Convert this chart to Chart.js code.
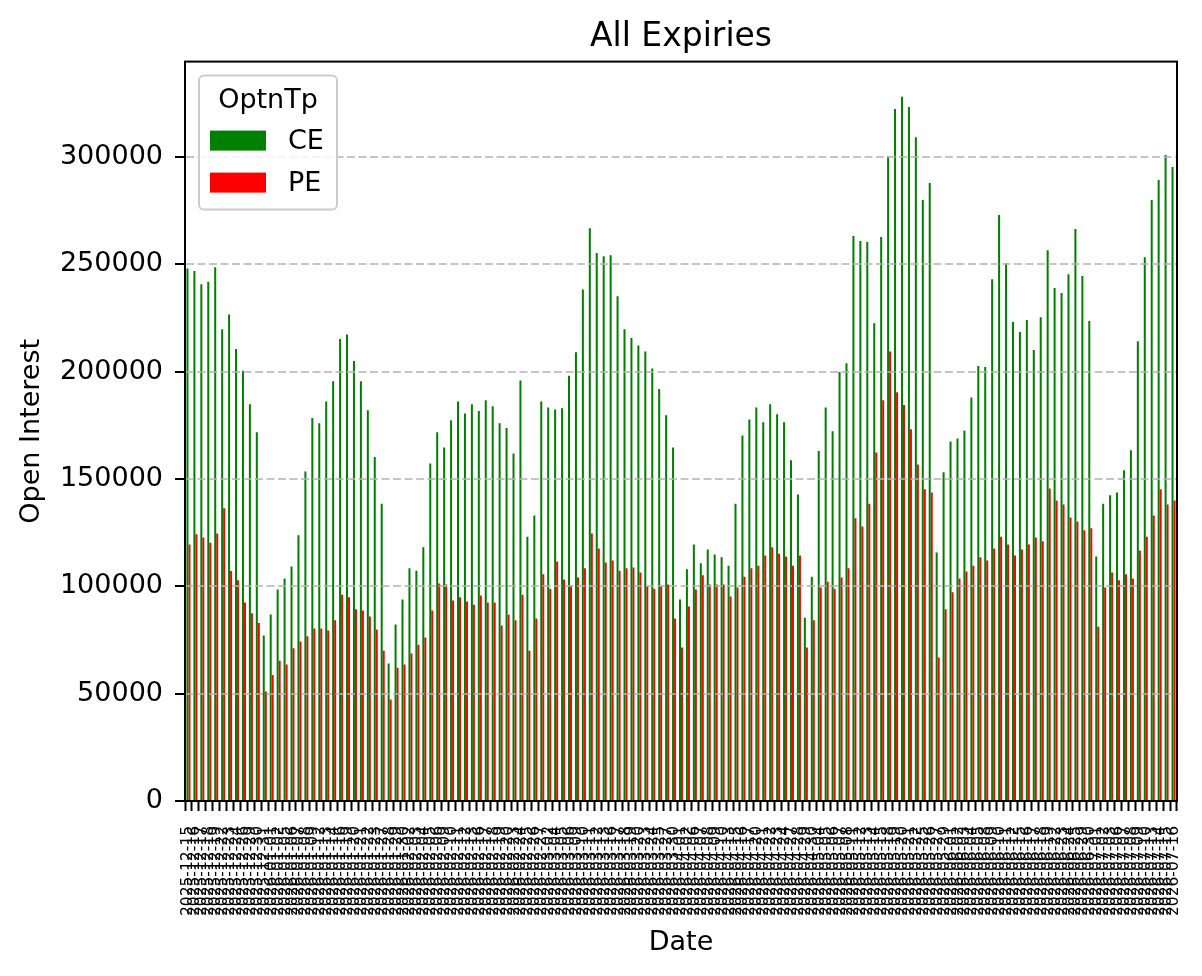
<!DOCTYPE html>
<html>
<head>
<meta charset="utf-8">
<title>All Expiries</title>
<script src="https://cdn.jsdelivr.net/npm/chart.js@4.4.1/dist/chart.umd.min.js"></script>
<style>
  html, body { margin: 0; padding: 0; background: #fff; }
  #chart { display: block; }
</style>
</head>
<body>
<canvas id="chart" width="1202" height="976"></canvas>
<script>
// ----- Data -----
var dates = [
  '2025-12-15','2025-12-16','2025-12-17','2025-12-18','2025-12-19','2025-12-22','2025-12-23','2025-12-24','2025-12-26','2025-12-29','2025-12-30','2025-12-31',
  '2026-01-01','2026-01-02','2026-01-05','2026-01-06','2026-01-07','2026-01-08','2026-01-09','2026-01-12','2026-01-13','2026-01-14',
  '2026-01-16','2026-01-19','2026-01-20','2026-01-21','2026-01-22','2026-01-23','2026-01-27','2026-01-28','2026-01-29','2026-01-30',
  '2026-02-02','2026-02-03','2026-02-04','2026-02-05','2026-02-06','2026-02-09','2026-02-10','2026-02-11','2026-02-12','2026-02-13',
  '2026-02-16','2026-02-17','2026-02-18','2026-02-19','2026-02-20','2026-02-23','2026-02-24','2026-02-25','2026-02-26','2026-02-27',
  '2026-03-02','2026-03-04','2026-03-05','2026-03-06','2026-03-09','2026-03-10','2026-03-11','2026-03-12','2026-03-13','2026-03-16',
  '2026-03-17','2026-03-18','2026-03-19','2026-03-20','2026-03-23','2026-03-24','2026-03-25','2026-03-27','2026-03-30',
  '2026-04-01','2026-04-02','2026-04-06','2026-04-07','2026-04-08','2026-04-09','2026-04-10','2026-04-13','2026-04-15','2026-04-16',
  '2026-04-17','2026-04-20','2026-04-21','2026-04-22','2026-04-23','2026-04-24','2026-04-27','2026-04-28','2026-04-29','2026-04-30',
  '2026-05-04','2026-05-05','2026-05-06','2026-05-07','2026-05-08','2026-05-11','2026-05-12','2026-05-13','2026-05-14','2026-05-15',
  '2026-05-18','2026-05-19','2026-05-20','2026-05-21','2026-05-22','2026-05-25','2026-05-26','2026-05-27','2026-05-29',
  '2026-06-01','2026-06-02','2026-06-03','2026-06-04','2026-06-05','2026-06-08','2026-06-09','2026-06-10','2026-06-11','2026-06-12',
  '2026-06-15','2026-06-16','2026-06-17','2026-06-18','2026-06-19','2026-06-22','2026-06-23','2026-06-24','2026-06-25','2026-06-29','2026-06-30',
  '2026-07-01','2026-07-02','2026-07-03','2026-07-06','2026-07-07','2026-07-08','2026-07-09','2026-07-10','2026-07-13','2026-07-14','2026-07-15','2026-07-16'
];

var ceValues = [
  248000,246900,240700,241800,248600,219700,226600,210500,200400,184800,171700,77100,
  86900,98500,103600,109200,123800,153500,178400,176000,186100,195500,
  215200,217300,204900,195500,182000,160200,138500,64000,82200,93800,
  108400,107300,118200,157200,171700,164700,177300,186100,180500,184800,
  181600,186700,183900,176000,173700,161900,195900,123100,133000,186100,
  183300,182400,182900,198100,209000,238300,266800,255200,253700,254200,
  235100,219700,215600,212200,209400,201500,191900,179700,164700,
  93800,107900,119500,110700,117100,114800,113500,109600,138500,170200,
  177700,183300,176400,184800,180100,176400,158700,142800,85400,104500,
  163000,183300,172200,199800,203900,263200,260800,260400,222500,262700,
  300200,322300,328000,323300,309200,279900,287800,115800,153100,
  167500,168900,172600,188000,202600,202100,243000,273000,250500,223100,
  218400,224000,210100,225300,256500,239000,236600,245400,266400,244500,223600,
  113900,138500,142400,143700,154000,163400,214100,253300,279900,289300,300900,295300
];

var peValues = [
  119500,124200,122700,120300,124600,136400,107100,102800,92500,87400,82900,51000,
  58700,65300,63600,71100,74300,76700,80300,80300,79400,84200,
  96100,94900,89300,88700,85900,79900,70000,47300,62100,63600,
  68700,72800,76200,88700,101300,100900,93400,94900,92900,91400,
  95700,92500,92500,81800,86900,84200,96100,70000,85000,105600,
  98900,111600,103200,100400,104100,108400,124600,117600,111100,112000,
  107300,108400,108800,106400,100000,98900,100400,100900,85000,
  71500,90600,98500,105100,100900,100900,100900,95300,99400,104500,
  108400,109600,114300,118200,115200,113900,109600,114300,71500,84200,
  99400,102100,98900,104100,108400,131700,127800,138500,162300,186700,
  209400,190400,184400,173200,156700,145200,143700,66800,89300,
  97200,103600,106900,109600,113500,112000,117600,123100,119500,114300,
  117100,119500,122700,121000,145600,140000,138100,132100,130200,126100,127000,
  81200,99400,106400,102800,105600,103600,116700,123100,133000,145200,138100,140000
];

var yTicks = [0, 50000, 100000, 150000, 200000, 250000, 300000];
var seriesNames = ['CE', 'PE'];
var legendTitle = 'OptnTp';

Chart.defaults.font.family = "'DejaVu Sans', sans-serif";
Chart.defaults.color = '#000';

// ----- Frame + legend (matplotlib style) -----
var frameAndLegend = {
  id: 'frameAndLegend',
  afterDraw: function(chart) {
    var ctx = chart.ctx, a = chart.chartArea;
    ctx.save();
    ctx.strokeStyle = '#000';
    ctx.lineWidth = 2;
    ctx.strokeRect(a.left, a.top, a.right - a.left, a.bottom - a.top);

    var x = a.left + 14, y = a.top + 14, w = 138, h = 134;
    ctx.beginPath();
    ctx.roundRect(x, y, w, h, 5);
    ctx.fillStyle = 'rgba(255,255,255,0.8)';
    ctx.fill();
    ctx.strokeStyle = '#cccccc';
    ctx.lineWidth = 2;
    ctx.stroke();

    ctx.fillStyle = '#000';
    ctx.font = "27px 'DejaVu Sans'";
    ctx.textAlign = 'center';
    ctx.textBaseline = 'middle';
    ctx.fillText(legendTitle, x + w / 2, y + 25);

    chart.data.datasets.forEach(function(ds, i) {
      var ry = y + 55 + i * 42;
      ctx.fillStyle = ds.backgroundColor;
      ctx.fillRect(x + 11, ry, 56, 20);
      ctx.fillStyle = '#000';
      ctx.textAlign = 'left';
      ctx.fillText(ds.label, x + 89, ry + 11);
    });
    ctx.restore();
  }
};

var ctx = document.getElementById('chart').getContext('2d');
new Chart(ctx, {
  type: 'bar',
  data: {
    labels: dates,
    datasets: [
      { label: seriesNames[0], data: ceValues, backgroundColor: '#008000', borderWidth: 0,
        categoryPercentage: 0.58, barPercentage: 1.0 },
      { label: seriesNames[1], data: peValues, backgroundColor: '#ff0000', borderWidth: 0,
        categoryPercentage: 0.58, barPercentage: 1.0 }
    ]
  },
  options: {
    responsive: false,
    animation: false,
    layout: { padding: { top: 0, right: 25, bottom: 0, left: 0 } },
    plugins: {
      legend: { display: false },
      tooltip: { enabled: false },
      title: {
        display: true, text: 'All Expiries', fullSize: false, color: '#000',
        font: { size: 33, weight: 'normal' }, padding: { top: 18, bottom: 4 }
      }
    },
    scales: {
      x: {
        ticks: { autoSkip: false, minRotation: 90, maxRotation: 90, font: { size: 15.5 }, padding: 15, color: '#000' },
        grid: { drawOnChartArea: false, tickLength: 10, tickColor: '#000', tickWidth: 2, z: 1 },
        border: { color: '#000', width: 2, z: 2 },
        title: { display: true, text: 'Date', font: { size: 27 }, padding: { top: 0, bottom: 17 } },
        afterFit: function(s) { s.height = 175; s.paddingLeft = 0; s.paddingRight = 0; }
      },
      y: {
        min: 0, max: 344400,
        afterBuildTicks: function(s) { s.ticks = yTicks.map(function(v) { return { value: v }; }); },
        ticks: { callback: function(v) { return String(v); }, font: { size: 27 }, padding: 12, color: '#000' },
        grid: { color: 'rgba(178,178,178,0.75)', lineWidth: 2, tickLength: 10, tickColor: '#000',
                tickWidth: 2, tickBorderDash: [], z: 1 },
        border: { color: '#000', width: 2, dash: [8, 3.5], z: 2 },
        title: { display: true, text: 'Open Interest', font: { size: 27 }, padding: { top: 16, bottom: 0 } },
        afterFit: function(s) { s.width = 185; }
      }
    }
  },
  plugins: [frameAndLegend]
});
</script>
</body>
</html>
